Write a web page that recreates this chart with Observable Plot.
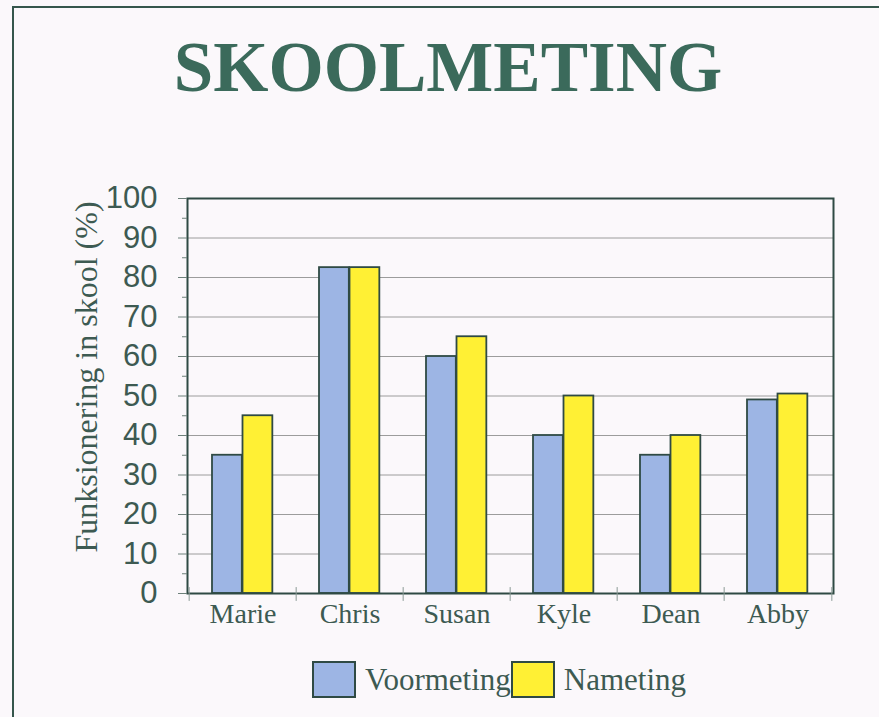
<!DOCTYPE html>
<html>
<head>
<meta charset="utf-8">
<script src="https://cdn.jsdelivr.net/npm/d3@7"></script>
<script src="https://cdn.jsdelivr.net/npm/@observablehq/plot@0.6"></script>
<style>
  html, body { margin: 0; padding: 0; background: #fbf8fb; width: 879px; height: 717px; overflow: hidden; }
  #page { position: relative; width: 879px; height: 717px; }
  #border { position: absolute; left: 12px; top: 6px; width: 900px; height: 800px;
            border-left: 2px solid #35564c; border-top: 2px solid #35564c; }
  #title { position: absolute; left: 0; top: 32px; width: 896px; text-align: center;
           font-family: "Liberation Serif", serif; font-weight: bold; font-size: 71px; line-height: 71px;
           color: #3b6a5b; }
  #chart { position: absolute; left: 0; top: 0; }
  #legend { position: absolute; left: 312px; top: 661px; display: flex; align-items: center;
            font-family: "Liberation Serif", serif; font-size: 31px; color: #3d5a52; }
  .sw { width: 40px; height: 33px; border: 2px solid #2f4a44; box-sizing: content-box; }
  .lab { margin-left: 9px; }
</style>
</head>
<body>
<div id="page">
  <div id="border"></div>
  <div id="title"></div>
  <div id="chart"></div>
  <div id="legend"></div>
</div>
<script>
const titleText = "SKOOLMETING";
const yLabel = "Funksionering in skool (%)";
const names = ["Marie", "Chris", "Susan", "Kyle", "Dean", "Abby"];
const voormeting = [35, 82.5, 60, 40, 35, 49];
const nameting = [45, 82.5, 65, 50, 40, 50.5];
const seriesNames = ["Voormeting", "Nameting"];
const seriesColors = ["#9db5e4", "#fff034"];
const yTicks = [0, 10, 20, 30, 40, 50, 60, 70, 80, 90, 100];
const gridTicks = [10, 20, 30, 40, 50, 60, 70, 80, 90];
const minorTicks = [5, 15, 25, 35, 45, 55, 65, 75, 85, 95];

document.getElementById("title").textContent = titleText;

const W = 879, H = 717, ML = 187, MR = 46, MT = 198, MB = 124;
const band = (W - ML - MR) / names.length;
const gap = 23, barW = 30.5;
const dark = "#2f4a44";
const textColor = "#3d5a52";

const rows = names.map((n, i) => ({name: n, voor: voormeting[i], na: nameting[i]}));

const chart = Plot.plot({
  width: W, height: H,
  marginLeft: ML, marginRight: MR, marginTop: MT, marginBottom: MB,
  style: {background: "transparent", fontFamily: "'Liberation Serif', serif", color: textColor, overflow: "visible"},
  x: {domain: names, padding: 0, label: null, axis: null},
  y: {domain: [0, 100], label: null, axis: null},
  marks: [
    Plot.gridY(gridTicks, {stroke: "#9c9c9c", strokeOpacity: 1, strokeWidth: 1}),
    Plot.barY(rows, {x: "name", y: "voor", fill: seriesColors[0], stroke: dark, strokeWidth: 1.8,
      insetLeft: gap, insetRight: band - gap - barW}),
    Plot.barY(rows, {x: "name", y: "na", fill: seriesColors[1], stroke: dark, strokeWidth: 1.8,
      insetLeft: gap + barW, insetRight: band - gap - 2 * barW}),
    Plot.frame({stroke: dark, strokeWidth: 2}),
    Plot.axisY(yTicks, {anchor: "left", tickSize: 9, tickPadding: 21, fontSize: 31,
      fontFamily: "'Liberation Sans', Arial, sans-serif", label: null, stroke: "#6d807a"}),
    Plot.axisY(minorTicks, {anchor: "left", tickSize: 5, tickFormat: () => "", label: null, stroke: "#6d807a"}),
    Plot.axisX({anchor: "bottom", tickSize: 0, tickPadding: 10, fontSize: 28, label: null}),
    Plot.ruleX(names, {x: d => d, y1: 1.5, y2: -2, dx: -band / 2, stroke: "#8a9a95"}),
    Plot.ruleX([names[names.length - 1]], {x: d => d, y1: 1.5, y2: -2, dx: band / 2, stroke: "#8a9a95"}),
    Plot.text([yLabel], {frameAnchor: "left", textAnchor: "middle", rotate: -90, dx: -101, dy: -19, fontSize: 32,
      fill: textColor, fontFamily: "'Liberation Serif', serif"})
  ]
});
document.getElementById("chart").appendChild(chart);

const legend = document.getElementById("legend");
seriesNames.forEach((s, i) => {
  const sw = document.createElement("div");
  sw.className = "sw";
  sw.style.background = seriesColors[i];
  legend.appendChild(sw);
  const lab = document.createElement("span");
  lab.className = "lab";
  lab.textContent = s;
  legend.appendChild(lab);
});
</script>
</body>
</html>
